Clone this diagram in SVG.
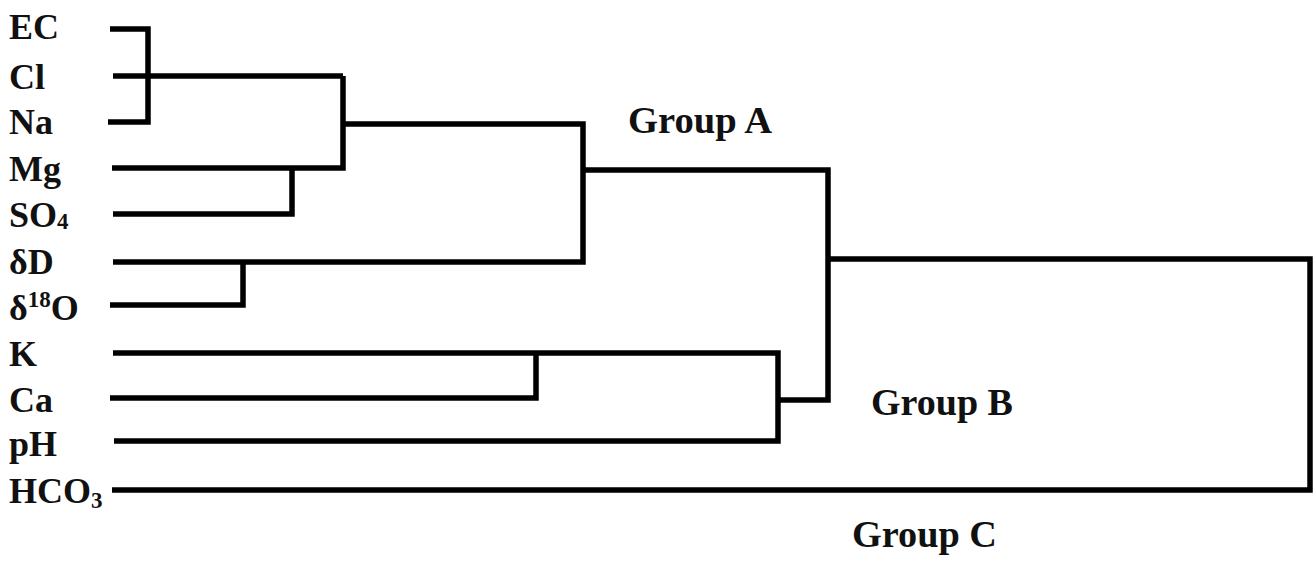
<svg xmlns="http://www.w3.org/2000/svg" width="1315" height="561" viewBox="0 0 1315 561">
<style>
.lbl{font-family:"Liberation Serif","Times New Roman",serif;font-weight:bold;font-size:36px;fill:#111}
.grp{font-family:"Liberation Serif","Times New Roman",serif;font-weight:bold;font-size:37px;fill:#111}
.sub{font-size:23px}
.ln{fill:none;stroke:#000;stroke-width:5.5;stroke-linejoin:miter;stroke-linecap:butt}
</style>
<rect width="1315" height="561" fill="#fff"/>
<g id="leaf-EC"><text class="lbl" x="9" y="39">EC</text></g>
<g id="leaf-Cl"><text class="lbl" x="9" y="89">Cl</text></g>
<g id="leaf-Na"><text class="lbl" x="9" y="134">Na</text></g>
<g id="leaf-Mg"><text class="lbl" x="9" y="181">Mg</text></g>
<g id="leaf-SO4"><text class="lbl" x="9" y="227">SO<tspan class="sub" dy="2">4</tspan></text></g>
<g id="leaf-dD"><text class="lbl" x="9" y="274">δD</text></g>
<g id="leaf-d18O"><text class="lbl" x="9" y="320">δ<tspan class="sub" dy="-13">18</tspan><tspan dy="13">O</tspan></text></g>
<g id="leaf-K"><text class="lbl" x="9" y="366">K</text></g>
<g id="leaf-Ca"><text class="lbl" x="9" y="412">Ca</text></g>
<g id="leaf-pH"><text class="lbl" x="9" y="456">pH</text></g>
<g id="leaf-HCO3"><text class="lbl" x="9" y="503">HCO<tspan class="sub" dy="5">3</tspan></text></g>
<g id="group-A"><text class="grp" x="628" y="133" textLength="144" lengthAdjust="spacingAndGlyphs">Group A</text></g>
<g id="group-B"><text class="grp" x="871" y="415" textLength="142" lengthAdjust="spacingAndGlyphs">Group B</text></g>
<g id="group-C"><text class="grp" x="852" y="547" textLength="145" lengthAdjust="spacingAndGlyphs">Group C</text></g>
<g id="connectors">
<polyline class="ln" points="110,29 148,29 148,122 108,122"/>
<line class="ln" x1="113" y1="76" x2="343" y2="76"/>
<polyline class="ln" points="343,76 343,168 112,168"/>
<polyline class="ln" points="113,214 292,214 292,168"/>
<polyline class="ln" points="343,124 583,124 583,262 113,262"/>
<polyline class="ln" points="110,305 243,305 243,262"/>
<polyline class="ln" points="583,170 828,170 828,400 778,400"/>
<polyline class="ln" points="113,353 778,353 778,441 114,441"/>
<polyline class="ln" points="110,398 536,398 536,353"/>
<polyline class="ln" points="828,259 1310,259 1310,490 112,490"/>
</g>
</svg>
